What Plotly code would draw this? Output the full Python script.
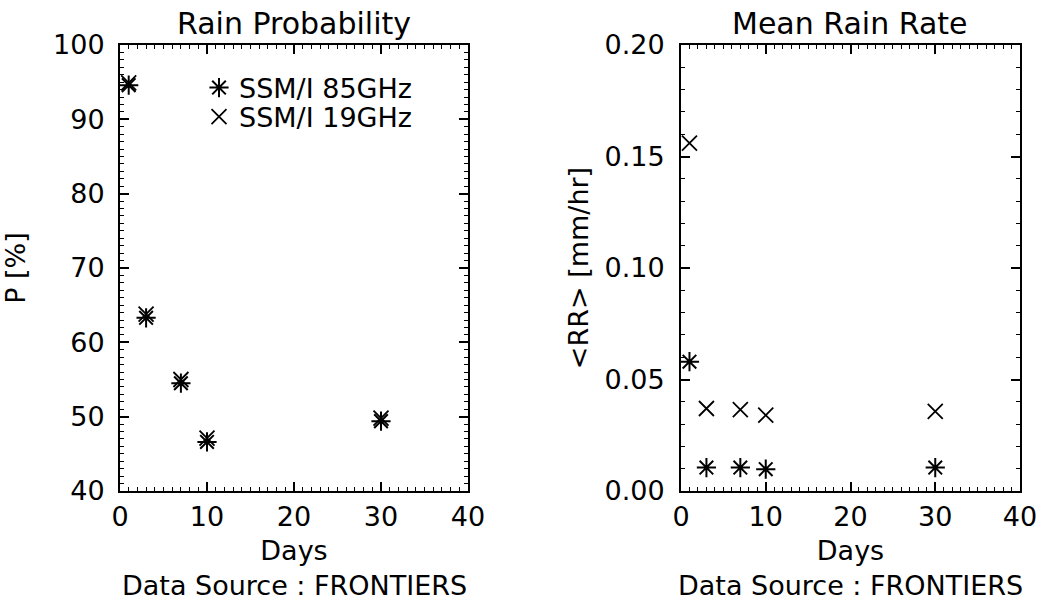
import plotly.graph_objects as go

days = [1, 3, 7, 10, 30]
prob_85 = [94.6, 63.3, 54.5, 46.6, 49.4]
prob_19 = [94.9, 63.8, 55.0, 47.1, 49.8]
rate_85 = [0.058, 0.0105, 0.0105, 0.0098, 0.0105]
rate_19 = [0.156, 0.037, 0.0365, 0.034, 0.0357]

FONT = "DejaVu Sans"
FS = 27
W, H = 1060, 602
ML, MR, MT, MB = 120, 40, 45, 111
PW = W - ML - MR
PH = H - MT - MB

def px_x(x):
    return (x - ML) / PW

def px_y(y):
    return (H - MB - y) / PH

fig = go.Figure()

ast = dict(symbol="asterisk-open", size=16, color="black", line=dict(color="black", width=2))
crs = dict(symbol="x-thin-open", size=15, color="black", line=dict(color="black", width=1.8))

fig.add_trace(go.Scatter(x=days, y=prob_85, mode="markers", marker=ast, name="SSM/I 85GHz",
                         xaxis="x", yaxis="y", legend="legend"))
fig.add_trace(go.Scatter(x=days, y=prob_19, mode="markers", marker=crs, name="SSM/I 19GHz",
                         xaxis="x", yaxis="y", legend="legend2"))
fig.add_trace(go.Scatter(x=days, y=rate_85, mode="markers", marker=ast, name="SSM/I 85GHz",
                         xaxis="x2", yaxis="y2", showlegend=False))
fig.add_trace(go.Scatter(x=days, y=rate_19, mode="markers", marker=crs, name="SSM/I 19GHz",
                         xaxis="x2", yaxis="y2", showlegend=False))

def axis_common(**kw):
    d = dict(showline=True, linewidth=2, linecolor="black", mirror="ticks",
             ticks="inside", ticklen=9, tickwidth=1.5, tickcolor="black",
             showgrid=False, zeroline=False,
             tickfont=dict(family=FONT, size=FS, color="black"))
    d.update(kw)
    return d

tf = dict(family=FONT, size=FS, color="black")
mx = dict(dtick=1, ticklen=4, ticks="inside", tickcolor="black", tickwidth=1.2)
xt = dict(tickvals=[0, 10, 20, 30, 40], ticktext=["0", "10", "20", "30", "40"])
fig.update_layout(
    xaxis=axis_common(domain=[0, px_x(468)], range=[0, 40], anchor="y", minor=mx,
                      title=dict(text="Days", font=tf, standoff=10),
                      ticklabelstandoff=1, **xt),
    yaxis=axis_common(domain=[0, 1], range=[40, 100], anchor="x", dtick=10,
                      minor=dict(dtick=1, ticklen=4, ticks="inside", tickcolor="black", tickwidth=1.2),
                      title=dict(text="P [%]", font=tf, standoff=20),
                      ticklabelstandoff=8),
    xaxis2=axis_common(domain=[px_x(681), 1], range=[0, 40], anchor="y2", minor=mx,
                       title=dict(text="Days", font=tf, standoff=10),
                       ticklabelstandoff=1, **xt),
    yaxis2=axis_common(domain=[0, 1], range=[0, 0.2], anchor="x2", dtick=0.05, tickformat=".2f",
                       minor=dict(dtick=0.01, ticklen=4, ticks="inside", tickcolor="black", tickwidth=1.2),
                       title=dict(text="&lt;RR&gt; [mm/hr]", font=tf, standoff=8),
                       ticklabelstandoff=9),
    width=W, height=H,
    margin=dict(l=ML, r=MR, t=MT, b=MB),
    paper_bgcolor="white", plot_bgcolor="white",
    font=tf,
    legend=dict(x=px_x(199), y=px_y(88), xanchor="left", yanchor="middle",
                bgcolor="rgba(0,0,0,0)", itemwidth=30, font=tf),
    legend2=dict(x=px_x(199), y=px_y(117), xanchor="left", yanchor="middle",
                 bgcolor="rgba(0,0,0,0)", itemwidth=30, font=tf),
    annotations=[
        dict(text="Rain Probability", x=px_x(294), y=px_y(24), xref="paper", yref="paper",
             xanchor="center", yanchor="middle", showarrow=False,
             font=dict(family=FONT, size=30, color="black")),
        dict(text="Mean Rain Rate", x=px_x(850), y=px_y(24), xref="paper", yref="paper",
             xanchor="center", yanchor="middle", showarrow=False,
             font=dict(family=FONT, size=30, color="black")),
        dict(text="Data Source : FRONTIERS", x=px_x(294), y=px_y(585), xref="paper", yref="paper",
             xanchor="center", yanchor="middle", showarrow=False, font=tf),
        dict(text="Data Source : FRONTIERS", x=px_x(850), y=px_y(585), xref="paper", yref="paper",
             xanchor="center", yanchor="middle", showarrow=False, font=tf),
    ],
)

fig.write_html("out.html")
